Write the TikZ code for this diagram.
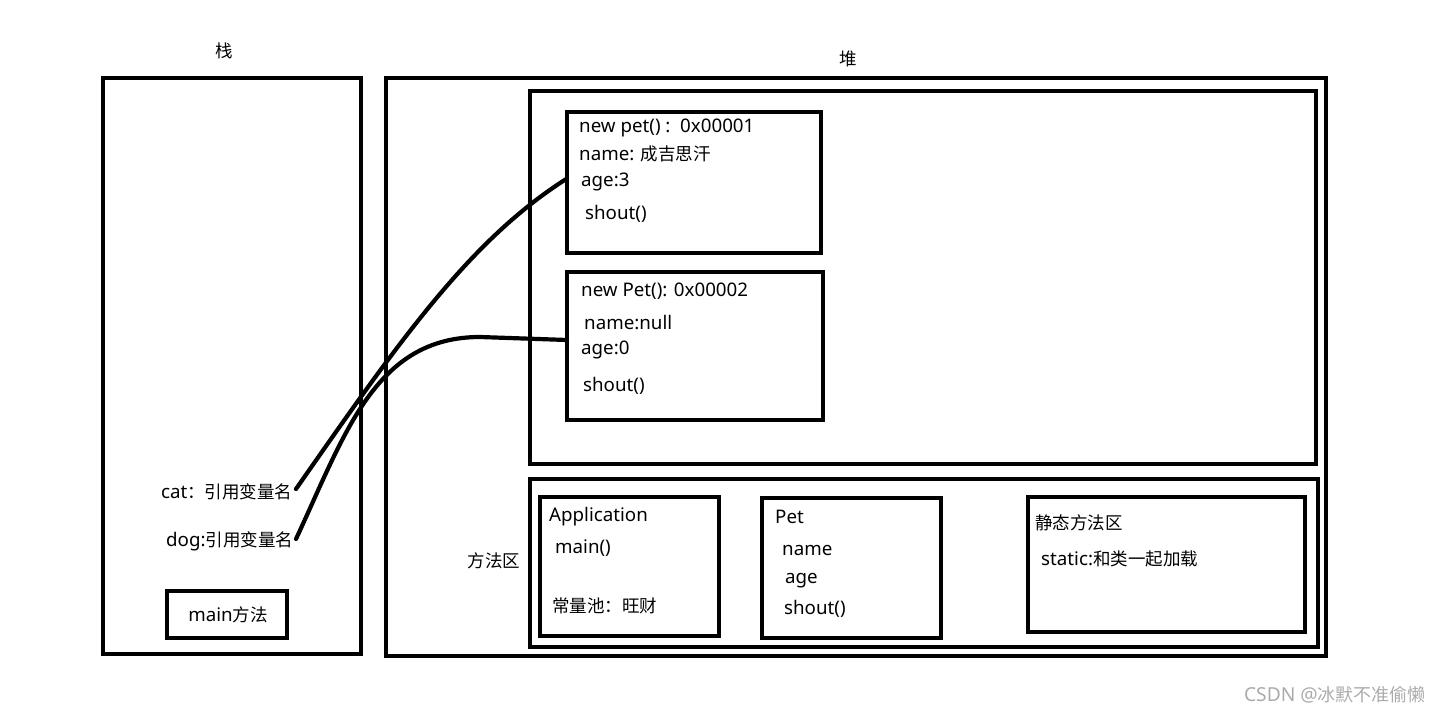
\documentclass[tikz,border=0pt]{standalone}
\usepackage{fontspec}
\setmainfont{Noto Sans}[Scale=1.07]
\newfontfamily\cjk{Noto Sans CJK SC}
\begin{document}
\begin{tikzpicture}[x=1pt,y=-1pt,
 box/.style={draw, line width=4.5pt, rectangle, inner sep=0pt, outer sep=0pt, anchor=north west},
 txt/.style={anchor=west, inner sep=0pt, font=\fontsize{17.5}{20}\selectfont},
 ctxt/.style={inner sep=0pt, font=\fontsize{17.5}{20}\selectfont},
 link/.style={line width=4.2pt, line cap=round}]
\useasboundingbox (0,0) rectangle (1441,714);
% containers
\node[box, minimum width=258pt, minimum height=576pt] (stack) at (103,78) {};
\node[box, minimum width=940pt, minimum height=578pt] (heap) at (386,78) {};
\node[box, minimum width=786pt, minimum height=373pt] (inner) at (530,91) {};
\node[box, minimum width=254pt, minimum height=141pt] (obj1) at (567,112) {};
\node[box, minimum width=256pt, minimum height=148pt] (obj2) at (567,272) {};
\node[box, minimum width=788pt, minimum height=168pt] (method) at (530,479) {};
\node[box, minimum width=179pt, minimum height=139pt] (app) at (540,497) {};
\node[box, minimum width=179pt, minimum height=140pt] (pet) at (762,498) {};
\node[box, minimum width=277pt, minimum height=135pt] (static) at (1028,497) {};
\node[box, minimum width=120pt, minimum height=47pt] (mainbox) at (167,591) {};
% titles
\node[ctxt] (tstack) at (224,51) {\cjk 栈};
\node[ctxt] (theap) at (848,59) {\cjk 堆};
\node[ctxt] (tmethod) at (494,561) {\cjk 方法区};
\node[ctxt] (tmain) at (228,615) {main{\cjk 方法}};
% object 1
\node[txt] (o1a) at (579,128) {new pet() :\ \ 0x00001};
\node[txt] (o1b) at (579,154) {name: {\cjk 成吉思汗}};
\node[txt] (o1c) at (581,182) {age:3};
\node[txt] (o1d) at (585,214) {shout()};
% object 2
\node[txt] (o2a) at (581,291) {new Pet(): 0x00002};
\node[txt] (o2b) at (584,323) {name:null};
\node[txt] (o2c) at (581,350) {age:0};
\node[txt] (o2d) at (583,386) {shout()};
% stack vars
\node[txt] (cat) at (161,492) {cat{\cjk ：引用变量名}};
\node[txt] (dog) at (166,541) {dog:{\cjk 引用变量名}};
% method area
\node[txt] (a1) at (549,517) {Application};
\node[txt] (a2) at (555,548) {main()};
\node[txt] (a3) at (552,606) {\cjk 常量池：旺财};
\node[txt] (p1) at (775,517) {Pet};
\node[txt] (p2) at (782,550) {name};
\node[txt] (p3) at (785,581) {age};
\node[txt] (p4) at (784,609) {shout()};
\node[txt] (s1) at (1035,523) {\cjk 静态方法区};
\node[txt] (s2) at (1041,559) {static:{\cjk 和类一起加载}};
% watermark
\node[anchor=east, inner sep=0pt, text=black!33, font=\fontsize{18}{20}\selectfont] (wm) at (1426,695) {CSDN @{\cjk 冰默不准偷懒}};
% links
\coordinate (catref) at (296,489);
\coordinate (dogref) at (296,539);
\draw[link] (catref) .. controls (400,340) and (470,240) .. ([yshift=4pt]obj1.west);
\draw[link] (dogref) .. controls (345,434) and (375,337) .. (480,337) -- ([yshift=6pt]obj2.west);
\end{tikzpicture}
\end{document}
